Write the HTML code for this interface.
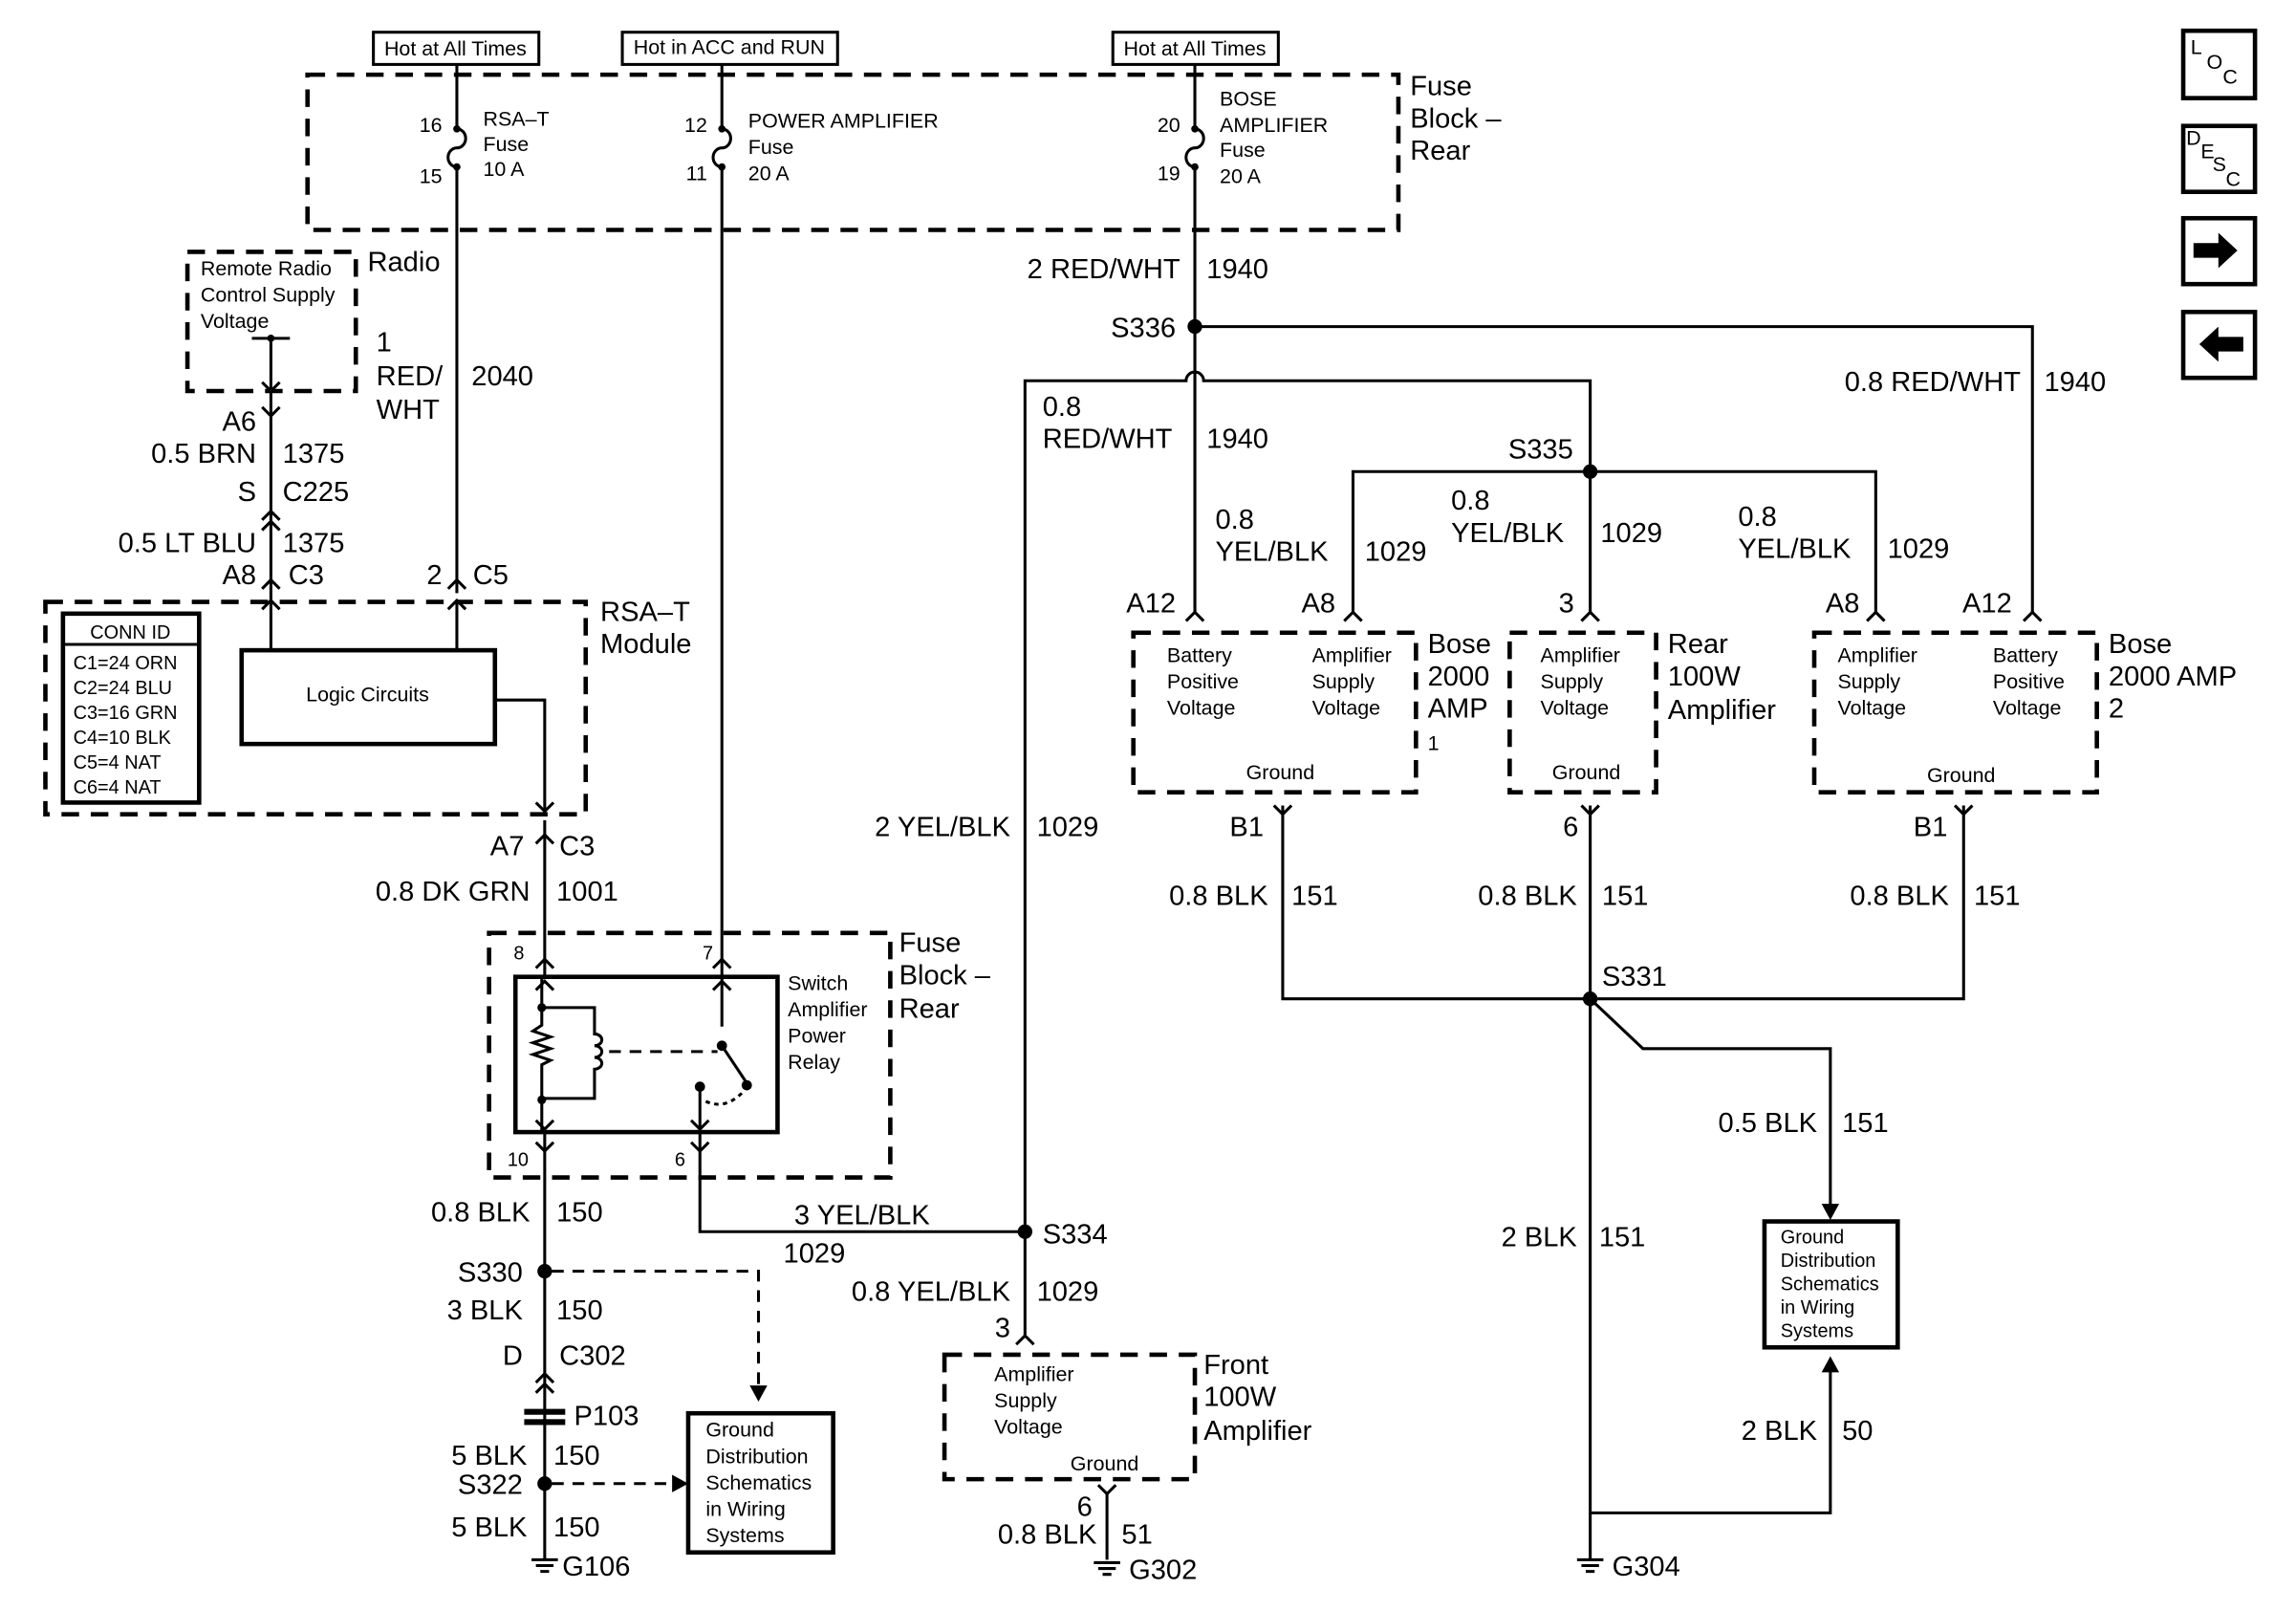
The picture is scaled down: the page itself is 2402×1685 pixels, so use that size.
<!DOCTYPE html>
<html><head><meta charset="utf-8"><style>
html,body{margin:0;padding:0;background:#fff}
svg{display:block}
text{font-family:"Liberation Sans",Arial,sans-serif;fill:#000}
.l{font-size:19px}.s{font-size:14px}.t{font-size:13px}
.w{stroke:#000;stroke-width:2;fill:none}
.d{stroke:#000;stroke-width:3;fill:none;stroke-dasharray:12 8}
.dl{stroke:#000;stroke-width:2;fill:none;stroke-dasharray:8 6}
.b{stroke:#000;stroke-width:3;fill:none}
.e{text-anchor:end}.m{text-anchor:middle}
</style></head><body>
<svg width="2402" height="1685" viewBox="0 0 1568 1100" preserveAspectRatio="none" xmlns="http://www.w3.org/2000/svg">
<rect width="1568" height="1100" fill="#fff"/>
<!-- top source boxes -->
<rect x="255" y="22" width="113" height="22" class="w"/><text x="311" y="38" class="s m">Hot at All Times</text>
<rect x="425" y="22" width="147" height="22" class="w"/><text x="498" y="37" class="s m">Hot in ACC and RUN</text>
<rect x="760" y="22" width="113" height="22" class="w"/><text x="816" y="38" class="s m">Hot at All Times</text>
<!-- fuse block -->
<rect x="210" y="51" width="745" height="106" class="d"/>
<text x="963" y="65" class="l">Fuse</text><text x="963" y="87" class="l">Block –</text><text x="963" y="109" class="l">Rear</text>
<!-- fuses -->
<g class="w">
<path d="M312 44V88 a6 6.5 0 0 1 0 13 a6 6.5 0 0 0 0 13 V405"/>
<path d="M493 44V88 a6 6.5 0 0 1 0 13 a6 6.5 0 0 0 0 13 V655"/>
<path d="M816 44V88 a6 6.5 0 0 1 0 13 a6 6.5 0 0 0 0 13 V418"/>
</g>
<g fill="#000"><circle cx="312" cy="88" r="2.5"/><circle cx="312" cy="114" r="2.5"/><circle cx="493" cy="88" r="2.5"/><circle cx="493" cy="114" r="2.5"/><circle cx="816" cy="88" r="2.5"/><circle cx="816" cy="114" r="2.5"/></g>
<text x="302" y="90" class="s e">16</text><text x="302" y="125" class="s e">15</text>
<text x="483" y="90" class="s e">12</text><text x="483" y="123" class="s e">11</text>
<text x="806" y="90" class="s e">20</text><text x="806" y="123" class="s e">19</text>
<text x="330" y="86" class="s">RSA–T</text><text x="330" y="103" class="s">Fuse</text><text x="330" y="120" class="s">10 A</text>
<text x="511" y="87" class="s">POWER AMPLIFIER</text><text x="511" y="105" class="s">Fuse</text><text x="511" y="123" class="s">20 A</text>
<text x="833" y="72" class="s">BOSE</text><text x="833" y="90" class="s">AMPLIFIER</text><text x="833" y="107" class="s">Fuse</text><text x="833" y="125" class="s">20 A</text>
<!-- radio -->
<rect x="128" y="172" width="115" height="95" class="d"/>
<text x="137" y="188" class="s">Remote Radio</text><text x="137" y="206" class="s">Control Supply</text><text x="137" y="224" class="s">Voltage</text>
<text x="251" y="185" class="l">Radio</text>
<path d="M172 231H198M185 231V410" class="w"/><circle cx="185" cy="231" r="2.5"/>
<polyline points="179,261 185,267 191,261" class="w"/>
<polyline points="179,278 185,284 191,278" class="w"/>
<polyline points="179,355 185,349 191,355" class="w"/>
<polyline points="179,362 185,356 191,362" class="w"/>
<polyline points="179,416 185,410 191,416" class="w"/>
<polyline points="179,402 185,396 191,402" class="w"/>
<polyline points="306,402 312,396 318,402" class="w"/>
<polyline points="306,416 312,410 318,416" class="w"/>
<text x="175" y="294" class="l e">A6</text>
<text x="175" y="316" class="l e">0.5 BRN</text><text x="193" y="316" class="l">1375</text>
<text x="175" y="342" class="l e">S</text><text x="193" y="342" class="l">C225</text>
<text x="175" y="377" class="l e">0.5 LT BLU</text><text x="193" y="377" class="l">1375</text>
<text x="175" y="399" class="l e">A8</text><text x="197" y="399" class="l">C3</text>
<text x="257" y="240" class="l">1</text><text x="257" y="263" class="l">RED/</text><text x="257" y="286" class="l">WHT</text><text x="322" y="263" class="l">2040</text>
<text x="302" y="399" class="l e">2</text><text x="323" y="399" class="l">C5</text>
<!-- RSA-T module -->
<rect x="31" y="411" width="369" height="145" class="d"/>
<text x="410" y="424" class="l">RSA–T</text><text x="410" y="446" class="l">Module</text>
<rect x="43" y="419" width="93" height="129" class="b"/><line x1="43" y1="440" x2="136" y2="440" class="w"/>
<text x="89" y="436" class="t m">CONN ID</text>
<text x="50" y="457" class="t">C1=24 ORN</text><text x="50" y="474" class="t">C2=24 BLU</text><text x="50" y="491" class="t">C3=16 GRN</text><text x="50" y="508" class="t">C4=10 BLK</text><text x="50" y="525" class="t">C5=4 NAT</text><text x="50" y="542" class="t">C6=4 NAT</text>
<rect x="165" y="444" width="173" height="64" class="b"/><text x="251" y="479" class="s m">Logic Circuits</text>
<path d="M185 410V444M312 410V444M338 478H372V556" class="w"/>
<polyline points="366,548 372,554 378,548" class="w"/>
<!-- to relay -->
<path d="M372 560V667" class="w"/>
<polyline points="366,576 372,570 378,576" class="w"/>
<text x="358" y="584" class="l e">A7</text><text x="382" y="584" class="l">C3</text>
<text x="362" y="615" class="l e">0.8 DK GRN</text><text x="380" y="615" class="l">1001</text>
<rect x="334" y="637" width="274" height="167" class="d"/>
<text x="614" y="650" class="l">Fuse</text><text x="614" y="672" class="l">Block –</text><text x="614" y="695" class="l">Rear</text>
<text x="358" y="655" class="t e">8</text><text x="487" y="655" class="t e">7</text>
<polyline points="366,661 372,655 378,661" class="w"/><polyline points="487,661 493,655 499,661" class="w"/>
<rect x="352" y="667" width="179" height="106" class="b"/>
<path d="M493 655V701" class="w"/>
<polyline points="366,676 372,670 378,676" class="w"/><polyline points="487,676 493,670 499,676" class="w"/>
<path d="M370 667V700 l-6 4 12 4 -12 4 12 4 -12 4 12 4 -6 3 V773M370 688H406V706 a5 4 0 0 1 0 8 a5 4 0 0 1 0 8 a5 4 0 0 1 0 8 V750H370" class="w"/>
<circle cx="370" cy="688" r="3"/><circle cx="370" cy="751" r="3"/>
<path d="M416 718H490" class="dl"/>
<circle cx="493" cy="714" r="3.5"/><path d="M493 714L509 738" class="w"/><circle cx="510" cy="741" r="3.5"/>
<circle cx="478" cy="742" r="3.5"/><path d="M478 742V773" class="w"/>
<path d="M482 752Q495 758 507 746" class="w" stroke-dasharray="3 3"/>
<polyline points="366,765 372,771 378,765" class="w"/><polyline points="472,765 478,771 484,765" class="w"/>
<polyline points="366,780 372,786 378,780" class="w"/><polyline points="472,780 478,786 484,780" class="w"/>
<text x="538" y="676" class="s">Switch</text><text x="538" y="694" class="s">Amplifier</text><text x="538" y="712" class="s">Power</text><text x="538" y="730" class="s">Relay</text>
<text x="361" y="796" class="t e">10</text><text x="468" y="796" class="t e">6</text>
<!-- lower left -->
<path d="M372 773V1065M478 773V841H700" class="w"/>
<text x="362" y="834" class="l e">0.8 BLK</text><text x="380" y="834" class="l">150</text>
<circle cx="372" cy="868" r="5"/><text x="357" y="875" class="l e">S330</text>
<path d="M377 868H518V948" class="dl"/><polygon points="512,946 524,946 518,957" />
<text x="357" y="901" class="l e">3 BLK</text><text x="380" y="901" class="l">150</text>
<text x="357" y="932" class="l e">D</text><text x="382" y="932" class="l">C302</text>
<polyline points="366,944 372,938 378,944" class="w"/><polyline points="366,951 372,945 378,951" class="w"/>
<rect x="358" y="962" width="28" height="4" fill="#000"/><rect x="358" y="969" width="28" height="4" fill="#000"/>
<text x="392" y="973" class="l">P103</text>
<text x="360" y="1000" class="l e">5 BLK</text><text x="378" y="1000" class="l">150</text>
<circle cx="372" cy="1013" r="5"/><text x="357" y="1020" class="l e">S322</text>
<path d="M377 1013H462" class="dl"/><polygon points="459,1007 459,1019 470,1013"/>
<text x="360" y="1049" class="l e">5 BLK</text><text x="378" y="1049" class="l">150</text>
<path d="M363 1065H381M366 1069H378M369 1073H375" class="w"/>
<text x="384" y="1076" class="l">G106</text>
<rect x="470" y="965" width="99" height="95" class="b"/>
<text x="482" y="981" class="s">Ground</text><text x="482" y="999" class="s">Distribution</text><text x="482" y="1017" class="s">Schematics</text><text x="482" y="1035" class="s">in Wiring</text><text x="482" y="1053" class="s">Systems</text>
<!-- S334 & center -->
<path d="M700 912V260H810 a6 6 0 0 1 12 0 H1086V418M816 223H1388V418M924 418V322H1281V418M816 418V223" class="w"/>
<circle cx="700" cy="841" r="5"/><circle cx="816" cy="223" r="5"/><circle cx="1086" cy="322" r="5"/>
<text x="635" y="836" class="l e">3 YEL/BLK</text><text x="535" y="862" class="l">1029</text>
<text x="712" y="849" class="l">S334</text>
<text x="690" y="571" class="l e">2 YEL/BLK</text><text x="708" y="571" class="l">1029</text>
<text x="690" y="888" class="l e">0.8 YEL/BLK</text><text x="708" y="888" class="l">1029</text>
<text x="690" y="913" class="l e">3</text>
<polyline points="694,918 700,912 706,918" class="w"/>
<rect x="645" y="925" width="171" height="85" class="d"/>
<text x="679" y="943" class="s">Amplifier</text><text x="679" y="961" class="s">Supply</text><text x="679" y="979" class="s">Voltage</text><text x="731" y="1004" class="s">Ground</text>
<text x="822" y="938" class="l">Front</text><text x="822" y="960" class="l">100W</text><text x="822" y="983" class="l">Amplifier</text>
<path d="M756 1020V1065" class="w"/><polyline points="750,1014 756,1020 762,1014" class="w"/>
<text x="746" y="1035" class="l e">6</text>
<text x="749" y="1054" class="l e">0.8 BLK</text><text x="766" y="1054" class="l">51</text>
<path d="M747 1067H765M750 1071H762M753 1075H759" class="w"/>
<text x="771" y="1078" class="l">G302</text>
<text x="806" y="190" class="l e">2 RED/WHT</text><text x="824" y="190" class="l">1940</text>
<text x="803" y="230" class="l e">S336</text>
<text x="712" y="284" class="l">0.8</text><text x="712" y="306" class="l">RED/WHT</text><text x="824" y="306" class="l">1940</text>
<text x="1380" y="267" class="l e">0.8 RED/WHT</text><text x="1396" y="267" class="l">1940</text>
<text x="1030" y="313" class="l">S335</text>
<text x="830" y="361" class="l">0.8</text><text x="830" y="383" class="l">YEL/BLK</text><text x="932" y="383" class="l">1029</text>
<text x="991" y="348" class="l">0.8</text><text x="991" y="370" class="l">YEL/BLK</text><text x="1093" y="370" class="l">1029</text>
<text x="1187" y="359" class="l">0.8</text><text x="1187" y="381" class="l">YEL/BLK</text><text x="1289" y="381" class="l">1029</text>
<text x="803" y="418" class="l e">A12</text><text x="912" y="418" class="l e">A8</text><text x="1075" y="418" class="l e">3</text><text x="1270" y="418" class="l e">A8</text><text x="1374" y="418" class="l e">A12</text>
<g class="w"><polyline points="810,424 816,418 822,424"/><polyline points="918,424 924,418 930,424"/><polyline points="1080,424 1086,418 1092,424"/><polyline points="1275,424 1281,418 1287,424"/><polyline points="1382,424 1388,418 1394,424"/></g>
<!-- amps -->
<rect x="774" y="432" width="193" height="109" class="d"/>
<text x="797" y="452" class="s">Battery</text><text x="797" y="470" class="s">Positive</text><text x="797" y="488" class="s">Voltage</text>
<text x="896" y="452" class="s">Amplifier</text><text x="896" y="470" class="s">Supply</text><text x="896" y="488" class="s">Voltage</text>
<text x="851" y="532" class="s">Ground</text>
<text x="975" y="446" class="l">Bose</text><text x="975" y="468" class="l">2000</text><text x="975" y="490" class="l">AMP</text><text x="975" y="512" class="s">1</text>
<rect x="1031" y="432" width="100" height="109" class="d"/>
<text x="1052" y="452" class="s">Amplifier</text><text x="1052" y="470" class="s">Supply</text><text x="1052" y="488" class="s">Voltage</text><text x="1060" y="532" class="s">Ground</text>
<text x="1139" y="446" class="l">Rear</text><text x="1139" y="468" class="l">100W</text><text x="1139" y="491" class="l">Amplifier</text>
<rect x="1239" y="432" width="193" height="109" class="d"/>
<text x="1255" y="452" class="s">Amplifier</text><text x="1255" y="470" class="s">Supply</text><text x="1255" y="488" class="s">Voltage</text>
<text x="1361" y="452" class="s">Battery</text><text x="1361" y="470" class="s">Positive</text><text x="1361" y="488" class="s">Voltage</text>
<text x="1316" y="534" class="s">Ground</text>
<text x="1440" y="446" class="l">Bose</text><text x="1440" y="468" class="l">2000 AMP</text><text x="1440" y="490" class="l">2</text>
<!-- grounds -->
<path d="M876 550V682H1341V550M1086 550V1065M1086 682L1122 716H1250V826M1250 935V1033H1086" class="w"/>
<g class="w"><polyline points="870,550 876,556 882,550"/><polyline points="1080,550 1086,556 1092,550"/><polyline points="1335,550 1341,556 1347,550"/></g>
<text x="863" y="571" class="l e">B1</text><text x="1078" y="571" class="l e">6</text><text x="1330" y="571" class="l e">B1</text>
<text x="866" y="618" class="l e">0.8 BLK</text><text x="882" y="618" class="l">151</text>
<text x="1077" y="618" class="l e">0.8 BLK</text><text x="1094" y="618" class="l">151</text>
<text x="1331" y="618" class="l e">0.8 BLK</text><text x="1348" y="618" class="l">151</text>
<circle cx="1086" cy="682" r="5"/><text x="1094" y="673" class="l">S331</text>
<text x="1241" y="773" class="l e">0.5 BLK</text><text x="1258" y="773" class="l">151</text>
<polygon points="1244,822 1256,822 1250,833"/>
<rect x="1205" y="834" width="91" height="86" class="b"/>
<text x="1216" y="849" class="t">Ground</text><text x="1216" y="865" class="t">Distribution</text><text x="1216" y="881" class="t">Schematics</text><text x="1216" y="897" class="t">in Wiring</text><text x="1216" y="913" class="t">Systems</text>
<polygon points="1244,937 1256,937 1250,926"/>
<text x="1077" y="851" class="l e">2 BLK</text><text x="1092" y="851" class="l">151</text>
<text x="1241" y="983" class="l e">2 BLK</text><text x="1258" y="983" class="l">50</text>
<path d="M1077 1065H1095M1080 1069H1092M1083 1073H1089" class="w"/>
<text x="1101" y="1076" class="l">G304</text>
<!-- icons -->
<rect x="1491" y="21" width="49" height="46" class="b"/><text x="1496" y="37" class="s">L</text><text x="1507" y="47" class="s">O</text><text x="1518" y="57" class="s">C</text>
<rect x="1491" y="86" width="49" height="45" class="b"/><text x="1493" y="99" class="s">D</text><text x="1503" y="108" class="s">E</text><text x="1511" y="117" class="s">S</text><text x="1520" y="127" class="s">C</text>
<rect x="1491" y="149" width="49" height="45" class="b"/><polygon points="1498,166 1515,166 1515,159 1528,171 1515,183 1515,176 1498,176"/>
<rect x="1491" y="213" width="49" height="45" class="b"/><polygon points="1532,230 1515,230 1515,223 1502,235 1515,247 1515,240 1532,240"/>
</svg>
</body></html>
